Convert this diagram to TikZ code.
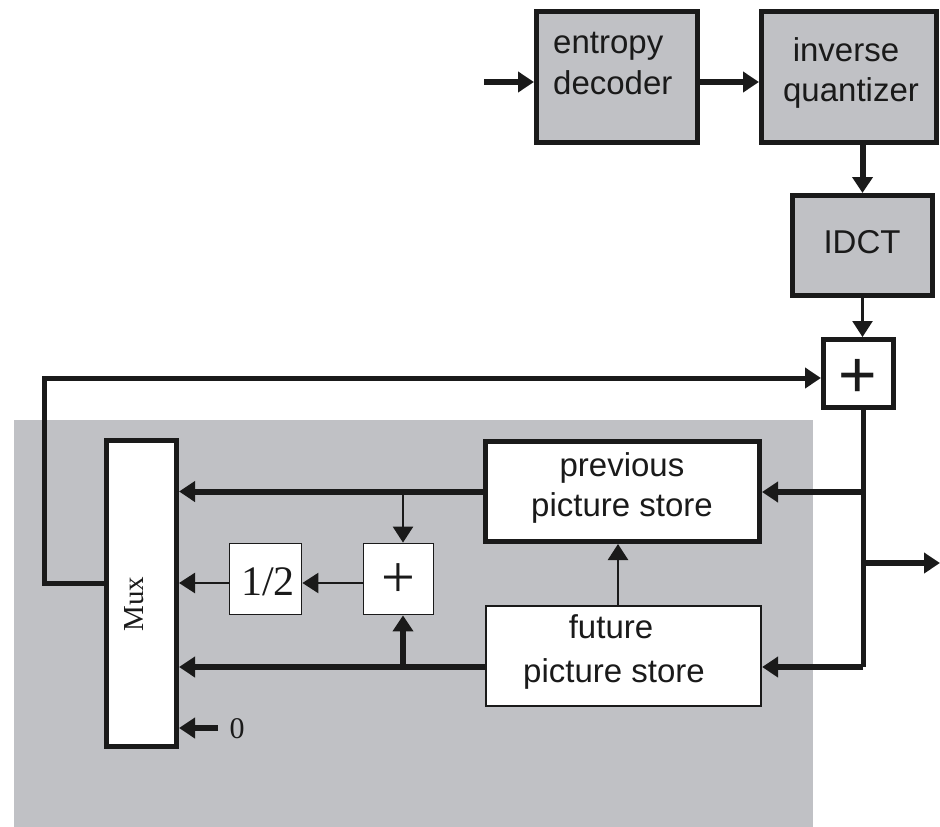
\documentclass[tikz,border=0pt]{standalone}
\usepackage{fontspec}
\newfontfamily\sansf{Liberation Sans}
\newfontfamily\seriff{Liberation Serif}
\usetikzlibrary{arrows.meta}
\definecolor{bgray}{RGB}{192,193,197}
\definecolor{ink}{RGB}{26,26,26}
\begin{document}
\begin{tikzpicture}[x=1pt,y=-1pt,
  thickbox/.style={draw=ink, line width=5pt, inner sep=0pt},
  thinbox/.style={draw=ink, line width=2.2pt, fill=white, inner sep=0pt},
  hairbox/.style={draw=ink, line width=1.8pt, fill=white, inner sep=0pt},
  lab/.style={font=\sansf\fontsize{33pt}{40pt}\selectfont, text=ink, inner sep=0pt, anchor=base},
  slab/.style={font=\seriff, text=ink, inner sep=0pt, anchor=base},
  tip/.style={-{Triangle[length=16pt,width=20pt]}},
  thk/.style={draw=ink, line width=6pt},
  thn/.style={draw=ink, line width=2.5pt},
  ]
\useasboundingbox (0,0) rectangle (940,827);
\fill[bgray] (14,420) rectangle (813,827);

% boxes
\node[thickbox, fill=bgray, minimum width=161pt, minimum height=131pt] (ent) at (617,77) {};
\node[thickbox, fill=bgray, minimum width=175pt, minimum height=131pt] (iq) at (849,77) {};
\node[thickbox, fill=bgray, minimum width=140pt, minimum height=100pt] (idct) at (862.5,245.5) {};
\node[thickbox, fill=white, minimum width=70pt, minimum height=68pt] (plus) at (858.5,373.5) {};
\node[thickbox, fill=white, minimum width=274pt, minimum height=100pt] (prev) at (622.5,491.5) {};
\node[thinbox, minimum width=275pt, minimum height=100pt] (fut) at (623.5,656) {};
\node[thickbox, fill=white, minimum width=70pt, minimum height=306pt] (mux) at (141.5,593.5) {};
\node[hairbox, minimum width=72pt, minimum height=71pt] (half) at (265.5,579) {};
\node[hairbox, minimum width=70pt, minimum height=71pt] (splus) at (398.5,579) {};

% labels
\node[lab, anchor=base west] (entA) at (553,53) {entropy};
\node[lab, anchor=base west] (entB) at (553,94) {decoder};
\node[lab] (iqA) at (846,61) {inverse};
\node[lab] (iqB) at (851,101) {quantizer};
\node[lab] (idctL) at (862,253) {IDCT};
\node[lab] (prevA) at (622,476) {previous};
\node[lab] (prevB) at (622,516) {picture store};
\node[lab] (futA) at (611,638) {future};
\node[lab] (futB) at (614,682) {picture store};
\node[lab, font=\sansf\fontsize{66pt}{66pt}\selectfont] (plusL) at (858,397) {+};
\node[slab, font=\seriff\fontsize{29pt}{29pt}\selectfont, rotate=90] (muxL) at (143,604) {Mux};
\node[slab, font=\seriff\fontsize{42pt}{42pt}\selectfont] (halfL) at (268,595) {1/2};
\node[slab, font=\seriff\fontsize{60pt}{60pt}\selectfont] (splusL) at (398.5,597) {+};
\node[slab, font=\seriff\fontsize{30pt}{30pt}\selectfont] (zero) at (237,738) {0};

% coordinates
\coordinate (in) at (484,82);
\coordinate (fbL) at (44,378);
\coordinate (muxfb) at (106,583);
\coordinate (busT) at (863,408);
\coordinate (busP) at (863,492);
\coordinate (busO) at (863,563);
\coordinate (busF) at (863,667);
\coordinate (out) at (940,563);
\coordinate (tapP) at (403,492);
\coordinate (tapF) at (403,667);
\coordinate (zsrc) at (218,728);

% top chain
\draw[thk, tip] (in) -- (in -| ent.west);
\draw[thk, tip] (in -| ent.east) -- (in -| iq.west);
\draw[thk, tip] (iq.south -| idct.north) -- (idct.north);
\draw[thn, tip] (idct.south) -- (idct.south |- plus.north);

% feedback loop
\draw[thk, line width=5pt, tip] (muxfb) -- (muxfb -| fbL) -- (fbL) -- (fbL -| plus.west);

% bus from adder
\draw[thk, line width=5pt] (busT) -- (busF);
\draw[thk, tip] (busP) -- (busP -| prev.east);
\draw[thk, tip] (busF) -- (busF -| fut.east);
\draw[thk, tip] (busO) -- (out);

% stores
\draw[thn, tip] (fut.north -| 618,0) -- (prev.south -| 618,0);
\draw[thk, tip] (prev.west) -- (prev.west -| mux.east);
\draw[thk, tip] (busF -| fut.west) -- (busF -| mux.east);
\draw[thn, tip] (tapP) -- (tapP |- splus.north);
\draw[thk, tip] (tapF) -- (tapF |- splus.south);
\draw[thn, tip] (splus.west |- 0,583) -- (half.east |- 0,583);
\draw[thn, tip] (half.west |- 0,583) -- (mux.east |- 0,583);
\draw[thk, tip] (zsrc) -- (zsrc -| mux.east);
\end{tikzpicture}
\end{document}
